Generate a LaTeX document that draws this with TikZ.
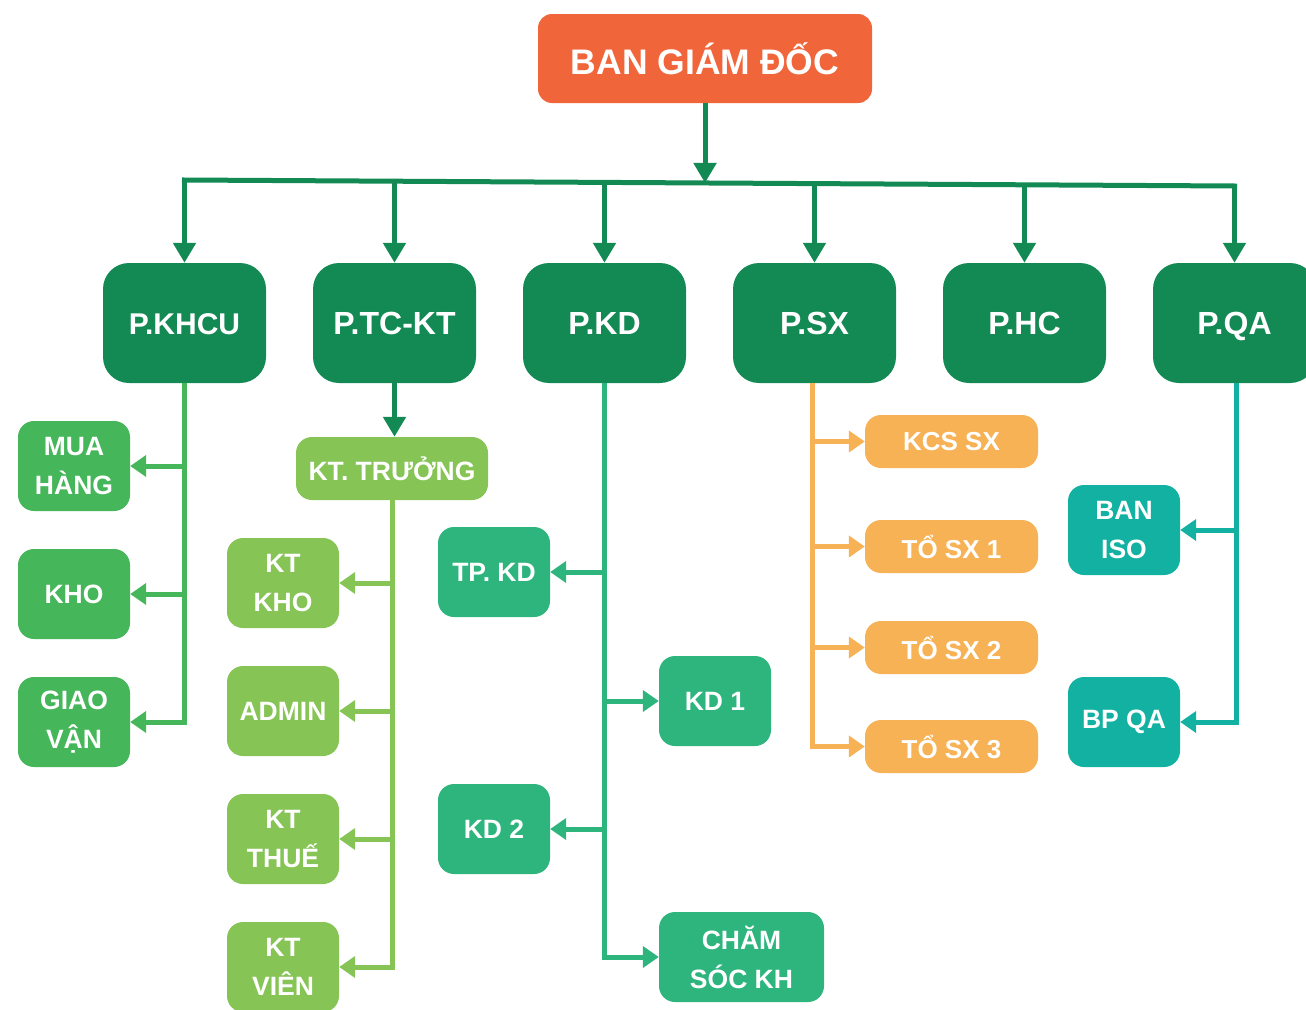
\documentclass[tikz,border=0pt]{standalone}
\usepackage{fontspec}
\setmainfont{Liberation Sans}
\usetikzlibrary{arrows.meta,calc}
\definecolor{cTop}{HTML}{F1653A}
\definecolor{cDark}{HTML}{138A54}
\definecolor{cMid}{HTML}{45B65A}
\definecolor{cLight}{HTML}{86C455}
\definecolor{cKD}{HTML}{2DB57D}
\definecolor{cOr}{HTML}{F8B256}
\definecolor{cTeal}{HTML}{13B1A1}
\tikzset{
  base/.style={rectangle, draw=none, text=white, align=center, inner sep=0pt},
  topbox/.style={base, fill=cTop, minimum width=334pt, minimum height=89pt, rounded corners=14pt, font=\fontsize{35.5}{40}\selectfont\bfseries},
  lvlbox/.style={base, fill=cDark, minimum width=163pt, minimum height=120pt, rounded corners=26pt, text height=22pt, text depth=0pt, font=\fontsize{32}{36}\selectfont\bfseries},
  subbox/.style={base, minimum width=112pt, minimum height=90pt, rounded corners=16pt, font=\fontsize{26.5}{39}\selectfont\bfseries},
  orbox/.style={base, fill=cOr, minimum width=173pt, minimum height=53pt, rounded corners=16pt, font=\fontsize{26}{39}\selectfont\bfseries},
  conn/.style={line width=5pt},
  tipL/.style={-{Triangle[width=22pt,length=20pt]}},
  tipS/.style={-{Triangle[width=21pt,length=16pt]}},
}
\begin{document}
\begin{tikzpicture}[x=1pt,y=-1pt]
\useasboundingbox (0,0) rectangle (1306,1009);
% top
\node[topbox] (top) at (705,58.5) {BAN GIÁM ĐỐC};
% level 1
\node[lvlbox,font=\fontsize{30}{36}\selectfont\bfseries] (khcu) at (184.5,323) {P.KHCU};
\node[lvlbox] (tckt) at (394.5,323) {P.TC-KT};
\node[lvlbox] (pkd) at (604.5,323) {P.KD};
\node[lvlbox] (psx) at (814.5,323) {P.SX};
\node[lvlbox] (phc) at (1024.5,323) {P.HC};
\node[lvlbox] (pqa) at (1234.5,323) {P.QA};
% bus
\coordinate (busL) at (184.5,180);
\coordinate (busR) at (1234.5,186);
\coordinate (bt) at ($(busL)!(top.south)!(busR)$);
\coordinate (b1) at ($(busL)!(khcu.north)!(busR)$);
\coordinate (b2) at ($(busL)!(tckt.north)!(busR)$);
\coordinate (b3) at ($(busL)!(pkd.north)!(busR)$);
\coordinate (b4) at ($(busL)!(psx.north)!(busR)$);
\coordinate (b5) at ($(busL)!(phc.north)!(busR)$);
\coordinate (b6) at ($(busL)!(pqa.north)!(busR)$);
\draw[conn,cDark,line cap=rect] (busL) -- (busR);
\draw[conn,cDark,tipL] (top.south) -- (top.south |- bt);
\foreach \b/\n in {b1/khcu,b2/tckt,b3/pkd,b4/psx,b5/phc,b6/pqa}
  \draw[conn,cDark,tipL] (\n.north |- \b) -- (\n.north);
% P.KHCU children
\node[subbox,fill=cMid] (mua) at (74,466) {MUA\\HÀNG};
\node[subbox,fill=cMid] (kho) at (74,594) {KHO};
\node[subbox,fill=cMid] (giao) at (74,722) {GIAO\\VẬN};
\draw[conn,cMid,tipS] (khcu.south) |- (giao.east);
\draw[conn,cMid,tipS] (khcu.south |- mua.east) -- (mua.east);
\draw[conn,cMid,tipS] (khcu.south |- kho.east) -- (kho.east);
% P.TC-KT children
\node[subbox,fill=cLight,minimum width=192pt,minimum height=63pt] (kttr) at (392,468.5) {KT. TRƯỞNG};
\draw[conn,cDark,tipL] (tckt.south) -- (tckt.south |- kttr.north);
\node[subbox,fill=cLight] (ktkho) at (283,583) {KT\\KHO};
\node[subbox,fill=cLight] (admin) at (283,711) {ADMIN};
\node[subbox,fill=cLight] (ktthue) at (283,839) {KT\\THUẾ};
\node[subbox,fill=cLight] (ktvien) at (283,967) {KT\\VIÊN};
\draw[conn,cLight,tipS] (kttr.south) |- (ktvien.east);
\draw[conn,cLight,tipS] (kttr.south |- ktkho.east) -- (ktkho.east);
\draw[conn,cLight,tipS] (kttr.south |- admin.east) -- (admin.east);
\draw[conn,cLight,tipS] (kttr.south |- ktthue.east) -- (ktthue.east);
% P.KD children
\node[subbox,fill=cKD] (tpkd) at (494,572) {TP. KD};
\node[subbox,fill=cKD] (kd1) at (715,701) {KD 1};
\node[subbox,fill=cKD] (kd2) at (494,829) {KD 2};
\node[subbox,fill=cKD,minimum width=165pt] (csk) at (741.5,957) {CHĂM\\SÓC KH};
\draw[conn,cKD,tipS] (pkd.south) |- (csk.west);
\draw[conn,cKD,tipS] (pkd.south |- tpkd.east) -- (tpkd.east);
\draw[conn,cKD,tipS] (pkd.south |- kd1.west) -- (kd1.west);
\draw[conn,cKD,tipS] (pkd.south |- kd2.east) -- (kd2.east);
% P.SX children
\coordinate (sxs) at (812,383);
\node[orbox] (kcs) at (951.5,441.5) {KCS SX};
\node[orbox] (to1) at (951.5,546.5) {TỔ SX 1};
\node[orbox] (to2) at (951.5,647.5) {TỔ SX 2};
\node[orbox] (to3) at (951.5,746.5) {TỔ SX 3};
\draw[conn,cOr,tipS] (sxs) |- (to3.west);
\draw[conn,cOr,tipS] (sxs |- kcs.west) -- (kcs.west);
\draw[conn,cOr,tipS] (sxs |- to1.west) -- (to1.west);
\draw[conn,cOr,tipS] (sxs |- to2.west) -- (to2.west);
% P.QA children
\coordinate (qas) at (1236,383);
\node[subbox,fill=cTeal] (iso) at (1124,530) {BAN\\ISO};
\node[subbox,fill=cTeal] (bpqa) at (1124,722) {BP QA};
\draw[conn,cTeal,tipS] (qas) |- (bpqa.east);
\draw[conn,cTeal,tipS] (qas |- iso.east) -- (iso.east);
\end{tikzpicture}
\end{document}
